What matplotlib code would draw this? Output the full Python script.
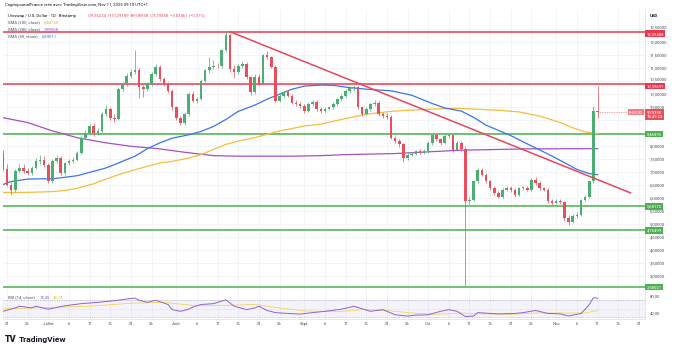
import matplotlib
matplotlib.use('Agg')
import matplotlib.pyplot as plt
import matplotlib.dates as mdates
import numpy as np
import pandas as pd

plt.rcParams['font.family'] = ['Roboto', 'DejaVu Sans']

# ---------------- data (daily candles, 2025-06-20 .. 2025-11-11) ----------------
dates = pd.date_range('2025-06-20', '2025-11-11', freq='D')

opens = [7.70, 7.12, 6.51, 6.32, 7.03, 7.16, 7.05, 6.96, 7.16, 7.42,
         7.48, 7.28, 6.64, 7.42, 7.54, 6.96, 7.35, 7.42, 7.48, 7.74,
         8.32, 8.51, 8.77, 8.51, 8.58, 9.22, 9.41, 9.09, 9.03, 10.19,
         10.38, 10.70, 10.83, 10.90, 10.25, 10.19, 10.38, 10.77, 11.03, 10.58,
         10.38, 10.12, 9.48, 9.09, 8.90, 9.22, 9.99, 9.74, 9.80, 10.51,
         10.90, 11.03, 11.09, 11.06, 11.67, 12.25, 10.96, 10.83, 11.09, 11.16,
         10.64, 10.06, 10.64, 10.40, 11.48, 11.41, 11.03, 9.74, 9.93, 10.06,
         9.93, 9.67, 9.61, 9.54, 9.35, 9.61, 9.70, 9.41, 9.35, 9.44,
         9.48, 9.61, 9.80, 9.93, 10.12, 10.21, 10.25, 9.48, 9.22, 9.41,
         9.61, 9.67, 9.22, 9.15, 9.13, 8.32, 8.19, 8.06, 7.54, 7.67,
         7.70, 7.80, 7.74, 7.80, 8.12, 8.41, 8.25, 8.12, 8.38, 8.41,
         7.84, 8.12, 7.87, 5.87, 5.93, 6.64, 7.09, 6.90, 6.64, 6.38,
         6.19, 6.06, 6.32, 6.38, 6.32, 6.12, 6.38, 6.40, 6.32, 6.70,
         6.58, 6.38, 6.32, 5.87, 5.80, 5.87, 5.85, 5.22, 5.09, 5.30,
         5.35, 5.93, 6.06, 6.64, 9.36]
highs = [7.85, 7.30, 6.62, 7.12, 7.32, 7.30, 7.14, 7.25, 7.55, 7.65,
         7.62, 7.36, 7.52, 7.66, 7.62, 7.40, 7.50, 7.56, 7.82, 8.40,
         8.62, 8.85, 8.88, 8.70, 9.30, 9.56, 9.50, 9.22, 10.25, 10.45,
         10.82, 10.96, 11.70, 10.98, 10.35, 10.46, 10.85, 11.15, 11.10, 10.66,
         10.45, 10.20, 9.55, 9.16, 9.30, 10.06, 10.10, 9.90, 10.56, 10.96,
         11.40, 11.30, 11.20, 11.72, 12.39, 12.30, 11.10, 11.15, 11.25, 11.22,
         10.70, 10.75, 10.78, 11.55, 11.65, 11.46, 11.10, 10.00, 10.12, 10.14,
         10.00, 9.75, 9.70, 9.60, 9.68, 9.78, 9.75, 9.48, 9.50, 9.55,
         9.68, 9.86, 9.98, 10.18, 10.30, 10.34, 10.30, 9.55, 9.48, 9.66,
         9.75, 9.72, 9.30, 9.25, 9.18, 8.40, 8.26, 8.12, 7.72, 7.78,
         7.86, 7.88, 7.88, 8.18, 8.48, 8.48, 8.32, 8.45, 8.50, 8.46,
         8.18, 8.18, 8.00, 6.05, 6.70, 7.15, 7.16, 6.96, 6.70, 6.45,
         6.26, 6.40, 6.46, 6.45, 6.38, 6.44, 6.48, 6.45, 6.78, 6.82,
         6.64, 6.44, 6.38, 5.95, 5.96, 5.95, 5.90, 5.35, 5.38, 5.45,
         5.98, 6.12, 6.70, 9.55, 10.29]
lows = [7.05, 6.45, 6.12, 6.25, 6.95, 6.98, 6.88, 6.90, 7.10, 7.32,
        7.20, 6.58, 6.58, 7.35, 6.90, 6.90, 7.28, 7.36, 7.42, 7.70,
        8.25, 8.45, 8.40, 8.44, 8.52, 9.15, 9.00, 8.92, 9.00, 10.10,
        10.30, 10.60, 10.75, 9.85, 9.90, 10.10, 10.30, 10.70, 10.50, 10.30,
        10.05, 9.40, 9.00, 8.80, 8.82, 9.15, 9.68, 9.65, 9.75, 10.45,
        10.82, 10.95, 10.98, 11.00, 11.60, 10.85, 10.60, 10.75, 11.00, 10.58,
        9.95, 10.00, 10.35, 10.35, 11.35, 10.98, 9.68, 9.70, 9.85, 9.88,
        9.60, 9.55, 9.45, 9.25, 9.30, 9.55, 9.36, 9.28, 9.30, 9.38,
        9.42, 9.55, 9.74, 9.88, 10.05, 10.12, 9.42, 9.15, 9.18, 9.36,
        9.55, 9.15, 9.08, 9.05, 8.25, 8.10, 7.98, 7.40, 7.48, 7.60,
        7.64, 7.68, 7.70, 7.75, 8.05, 8.18, 8.05, 8.08, 8.30, 7.78,
        7.80, 7.82, 2.64, 5.78, 5.88, 6.58, 6.84, 6.58, 6.32, 6.12,
        6.00, 6.02, 6.26, 6.25, 6.06, 6.08, 6.32, 6.26, 6.28, 6.52,
        6.32, 6.26, 5.82, 5.74, 5.76, 5.78, 5.12, 4.98, 5.04, 5.22,
        5.30, 5.88, 6.00, 6.58, 9.09]
closes = [7.12, 6.51, 6.32, 7.03, 7.16, 7.05, 6.96, 7.16, 7.42, 7.48,
          7.28, 6.64, 7.42, 7.54, 6.96, 7.35, 7.42, 7.48, 7.74, 8.32,
          8.51, 8.77, 8.51, 8.58, 9.22, 9.41, 9.09, 9.03, 10.19, 10.38,
          10.70, 10.83, 10.90, 10.25, 10.19, 10.38, 10.77, 11.03, 10.58, 10.38,
          10.12, 9.48, 9.09, 8.90, 9.22, 9.99, 9.74, 9.80, 10.51, 10.90,
          11.03, 11.09, 11.06, 11.67, 12.25, 10.96, 10.83, 11.09, 11.16, 10.64,
          10.06, 10.64, 10.40, 11.48, 11.41, 11.03, 9.74, 9.93, 10.06, 9.93,
          9.67, 9.61, 9.54, 9.35, 9.61, 9.70, 9.41, 9.35, 9.44, 9.48,
          9.61, 9.80, 9.93, 10.12, 10.21, 10.25, 9.48, 9.22, 9.41, 9.61,
          9.67, 9.22, 9.15, 9.13, 8.32, 8.19, 8.06, 7.54, 7.67, 7.70,
          7.80, 7.74, 7.80, 8.12, 8.41, 8.25, 8.12, 8.38, 8.41, 7.84,
          8.12, 7.87, 5.87, 5.93, 6.64, 7.09, 6.90, 6.64, 6.38, 6.19,
          6.06, 6.32, 6.38, 6.32, 6.12, 6.38, 6.40, 6.32, 6.70, 6.58,
          6.38, 6.32, 5.87, 5.80, 5.87, 5.85, 5.22, 5.09, 5.30, 5.35,
          5.93, 6.06, 6.64, 9.33, 9.29]

# moving averages (sampled along the curves)
sma50_dates = ['2025-06-20', '2025-06-22', '2025-06-26', '2025-06-29', '2025-07-02', '2025-07-05',
               '2025-07-08', '2025-07-12', '2025-07-15', '2025-07-18', '2025-07-22', '2025-07-25',
               '2025-07-28', '2025-07-31', '2025-08-04', '2025-08-07', '2025-08-10', '2025-08-13',
               '2025-08-16', '2025-08-20', '2025-08-23', '2025-08-26', '2025-08-29', '2025-09-01',
               '2025-09-05', '2025-09-08', '2025-09-12', '2025-09-17', '2025-09-22', '2025-09-27',
               '2025-10-02', '2025-10-05', '2025-10-09', '2025-10-12', '2025-10-15', '2025-10-18',
               '2025-10-21', '2025-10-25', '2025-10-28', '2025-10-31', '2025-11-03', '2025-11-06',
               '2025-11-09', '2025-11-11']
sma50_vals = [6.52, 6.64, 6.73, 6.74, 6.74, 6.80, 6.86, 7.03, 7.16, 7.35, 7.61, 7.90,
              8.12, 8.30, 8.43, 8.56, 8.75, 9.02, 9.33, 9.57, 9.80, 9.99, 10.18, 10.30,
              10.34, 10.33, 10.24, 10.17, 10.12, 9.95, 9.63, 9.46, 9.34, 9.10, 8.80, 8.60,
              8.40, 8.08, 7.85, 7.61, 7.36, 7.10, 6.94, 6.90]
sma100_dates = ['2025-06-20', '2025-06-26', '2025-07-02', '2025-07-05', '2025-07-08', '2025-07-12',
                '2025-07-15', '2025-07-18', '2025-07-22', '2025-07-25', '2025-07-28', '2025-07-31',
                '2025-08-04', '2025-08-07', '2025-08-10', '2025-08-13', '2025-08-16', '2025-08-20',
                '2025-08-23', '2025-08-26', '2025-08-29', '2025-09-01', '2025-09-05', '2025-09-08',
                '2025-09-12', '2025-09-16', '2025-09-22', '2025-09-27', '2025-10-02', '2025-10-08',
                '2025-10-13', '2025-10-18', '2025-10-23', '2025-10-28', '2025-11-02', '2025-11-05',
                '2025-11-08', '2025-11-11']
sma100_vals = [6.21, 6.22, 6.25, 6.29, 6.38, 6.55, 6.73, 6.90, 7.09, 7.22, 7.35, 7.41,
               7.54, 7.67, 7.87, 8.06, 8.19, 8.32, 8.45, 8.58, 8.67, 8.77, 8.84, 8.95,
               9.09, 9.22, 9.33, 9.38, 9.42, 9.45, 9.41, 9.37, 9.31, 9.15, 8.90, 8.70,
               8.54, 8.48]
sma200_dates = ['2025-06-20', '2025-06-26', '2025-07-02', '2025-07-08', '2025-07-15', '2025-07-21',
                '2025-07-28', '2025-08-03', '2025-08-10', '2025-08-16', '2025-08-23', '2025-08-29',
                '2025-09-05', '2025-09-11', '2025-09-23', '2025-10-09', '2025-10-25', '2025-11-11']
sma200_vals = [9.09, 8.90, 8.58, 8.32, 8.12, 7.99, 7.89, 7.76, 7.63, 7.61, 7.61, 7.61,
               7.63, 7.67, 7.71, 7.84, 7.89, 7.90]

# RSI (14) and its moving average
rsi_dates = ['2025-06-20', '2025-06-23', '2025-06-24', '2025-06-27', '2025-06-28', '2025-07-01',
             '2025-07-05', '2025-07-09', '2025-07-13', '2025-07-16', '2025-07-18', '2025-07-20',
             '2025-07-22', '2025-07-23', '2025-07-25', '2025-07-27', '2025-07-30', '2025-07-31',
             '2025-08-02', '2025-08-04', '2025-08-05', '2025-08-07', '2025-08-10', '2025-08-13',
             '2025-08-15', '2025-08-18', '2025-08-20', '2025-08-21', '2025-08-23', '2025-08-25',
             '2025-08-28', '2025-08-31', '2025-09-03', '2025-09-06', '2025-09-10', '2025-09-13',
             '2025-09-17', '2025-09-20', '2025-09-23', '2025-09-26', '2025-09-28', '2025-10-01',
             '2025-10-04', '2025-10-06', '2025-10-08', '2025-10-10', '2025-10-12', '2025-10-13',
             '2025-10-16', '2025-10-18', '2025-10-22', '2025-10-24', '2025-10-27', '2025-10-30',
             '2025-11-02', '2025-11-04', '2025-11-07', '2025-11-08', '2025-11-09', '2025-11-10',
             '2025-11-11']
rsi_vals = [44, 52, 56, 52, 56, 49, 57, 62, 65, 68, 70, 73,
            75, 70, 65, 70, 60, 48, 44, 49, 54, 60, 62, 71,
            56, 48, 52, 56, 46, 41, 39, 37.5, 41, 44, 49, 56,
            44, 48, 36, 33, 35, 36, 44, 48, 44, 32, 33, 41,
            39, 38, 39, 41, 46, 39, 38, 33, 39, 49, 60, 76,
            74.45]
rsima_dates = ['2025-06-20', '2025-07-01', '2025-07-11', '2025-07-21', '2025-07-29', '2025-08-05',
               '2025-08-13', '2025-08-20', '2025-08-26', '2025-09-01', '2025-09-09', '2025-09-15',
               '2025-09-21', '2025-09-27', '2025-10-03', '2025-10-09', '2025-10-15', '2025-10-21',
               '2025-10-27', '2025-11-02', '2025-11-08', '2025-11-11']
rsima_vals = [50, 53, 56, 63, 65, 58, 58, 60, 52, 45, 43, 48, 46, 40, 37, 40, 38, 37,
              40, 40, 40, 46]

# horizontal levels and trend line
levels_red = [12.39488, 10.39691]
levels_green = [8.46895, 5.68172, 4.76499, 2.58021]
trend_dates = ['2025-08-14', '2025-11-19']
trend_vals = [12.39, 6.20]
last_price = 9.29358

tick_dates = ['2025-06-21', '2025-06-26', '2025-07-01', '2025-07-06', '2025-07-11', '2025-07-16',
              '2025-07-21', '2025-07-26', '2025-08-01', '2025-08-06', '2025-08-11', '2025-08-16',
              '2025-08-21', '2025-08-26', '2025-09-01', '2025-09-06', '2025-09-11', '2025-09-16',
              '2025-09-21', '2025-09-26', '2025-10-01', '2025-10-06', '2025-10-11', '2025-10-16',
              '2025-10-21', '2025-10-26', '2025-11-01', '2025-11-06', '2025-11-11', '2025-11-16',
              '2025-11-21']
tick_labels = ['21', '26', 'Juillet', '6', '11', '16', '21', '26', 'Août', '6', '11', '16', '21',
               '26', 'Sept', '6', '11', '16', '21', '26', 'Oct', '6', '11', '16', '21', '26',
               'Nov', '6', '11', '16', '21']
price_ticks = [3.0, 3.5, 4.0, 4.5, 5.0, 5.5, 6.0, 6.5, 7.0, 7.5, 8.0, 8.5, 9.0, 9.5,
               10.0, 10.5, 11.0, 11.5, 12.0, 12.5]
hidden_ticks = [8.5, 9.0]
nudged_ticks = [12.5, 10.5]

# ---------------- styling ----------------
UP = '#4dae74'
DOWN = '#e5505c'
LRED = '#e8394f'
LGREEN = '#4caf50'
GRID = '#f0f2f6'
TXT = '#131722'
AXC = '#4a4e5a'

W, H = 685, 351
fig = plt.figure(figsize=(W / 100, H / 100), dpi=100)
fig.patch.set_facecolor('white')


def fx(px):
    return px / W


def fy(py):
    return 1 - py / H


ax = fig.add_axes([fx(3), fy(291.5), (645 - 3) / W, (291.5 - 10) / H])
axr = fig.add_axes([fx(3), fy(319), (645 - 3) / W, (319 - 291.5) / H], sharex=ax)

x = mdates.date2num(dates)
x0 = mdates.date2num(pd.Timestamp('2025-06-21'))
ax.set_xlim(x0 - 0.97, x0 + 154.5)
ax.set_ylim(2.414, 13.222)

tx = mdates.date2num(pd.to_datetime(tick_dates))
for t in tx:
    ax.axvline(t, color=GRID, lw=0.6, zorder=0)
    axr.axvline(t, color=GRID, lw=0.6, zorder=0)
for p in price_ticks:
    ax.axhline(p, color=GRID, lw=0.6, zorder=0)

# levels
for v in levels_red:
    ax.axhline(v, color=LRED, lw=1.1, zorder=2)
for v in levels_green:
    ax.axhline(v, color=LGREEN, lw=1.1, zorder=2)

# moving averages
ax.plot(mdates.date2num(pd.to_datetime(sma200_dates)), sma200_vals, color='#a64fc2', lw=0.9, zorder=2.5)
ax.plot(mdates.date2num(pd.to_datetime(sma100_dates)), sma100_vals, color='#f5bd3c', lw=0.9, zorder=2.5)
ax.plot(mdates.date2num(pd.to_datetime(sma50_dates)), sma50_vals, color='#3b74e8', lw=0.9, zorder=2.5)

# candles
o = np.array(opens)
c = np.array(closes)
hi = np.array(highs)
lo = np.array(lows)
cols = np.where(c >= o, UP, DOWN)
ax.vlines(x, lo, hi, colors=cols, lw=0.5, zorder=3)
bh = np.where(np.abs(c - o) < 0.03, 0.03, np.abs(c - o))
bb = np.minimum(o, c)
ax.bar(x, bh, bottom=bb, width=0.62, color=cols, lw=0, zorder=4)

# trend line
ax.plot(mdates.date2num(pd.to_datetime(trend_dates)), trend_vals, color='#e8475a', lw=1.1, zorder=5)

# current price dotted line
ax.plot([x[-1], x0 + 154.5], [last_price, last_price], color=DOWN, lw=0.5,
        ls=(0, (1, 1.5)), zorder=2)

for s in ['top', 'left']:
    ax.spines[s].set_visible(False)
for s in ['right', 'bottom']:
    ax.spines[s].set_color('#e0e3eb')
    ax.spines[s].set_linewidth(0.6)
ax.tick_params(axis='x', bottom=False, labelbottom=False)
ax.tick_params(axis='y', left=False, right=False, labelleft=False, labelright=False)
ax.set_yticks(price_ticks)

# price-axis tick labels (written as text, slightly nudged where TradingView shifts them)
for p in price_ticks:
    if p in hidden_ticks:
        continue
    dy = 1.3 if p in nudged_ticks else 0
    ax.annotate(f'{p:.5f}'.replace('.', ','), xy=(1, p), xycoords=('axes fraction', 'data'),
                xytext=(3.2, dy), textcoords='offset points', ha='left', va='center',
                fontsize=3.1, color=AXC, annotation_clip=False, zorder=8)


def plabel(v, text, color, dy=0.0):
    ax.annotate(text, xy=(1, v), xycoords=('axes fraction', 'data'), xytext=(1.2, dy),
                textcoords='offset points', ha='left', va='center', fontsize=3.1,
                color='white', annotation_clip=False, zorder=10,
                bbox=dict(boxstyle='square,pad=0.3', fc=color, ec='none'))


for v in levels_red:
    plabel(v, f'{v:.5f}'.replace('.', ','), LRED, dy=-1.6)
for v in levels_green:
    plabel(v, f'{v:.5f}'.replace('.', ','), LGREEN)
ax.annotate('9,29358\n14:49:23', xy=(1, last_price), xycoords=('axes fraction', 'data'),
            xytext=(1.2, -1.6), textcoords='offset points', ha='left', va='center', fontsize=3.1,
            color='white', annotation_clip=False, zorder=10, linespacing=1.3,
            bbox=dict(boxstyle='square,pad=0.35', fc=DOWN, ec='none'))
ax.annotate('8H50,82', xy=(1, last_price), xycoords=('axes fraction', 'data'),
            xytext=(-1.5, 0), textcoords='offset points', ha='right', va='center', fontsize=2.8,
            color='white', annotation_clip=False, zorder=10,
            bbox=dict(boxstyle='square,pad=0.3', fc='#ee7a84', ec='none'))

# ---------------- RSI pane ----------------
axr.set_ylim(26, 90.5)
axr.axhspan(30, 70, color='#7e57c2', alpha=0.07, lw=0, zorder=0)
for lv in [70, 30]:
    axr.axhline(lv, color='#9598a1', lw=0.5, ls=(0, (1, 1.5)), zorder=1)
axr.axhline(50, color='#b2b5be', lw=0.4, ls=(0, (1, 1.5)), zorder=1, alpha=0.6)
axr.plot(mdates.date2num(pd.to_datetime(rsima_dates)), rsima_vals, color='#efd65a', lw=0.6, zorder=2)
axr.plot(mdates.date2num(pd.to_datetime(rsi_dates)), rsi_vals, color='#8e62d0', lw=0.7, zorder=3)
for s in ['top', 'left']:
    axr.spines[s].set_visible(False)
for s in ['right', 'bottom']:
    axr.spines[s].set_color('#e0e3eb')
    axr.spines[s].set_linewidth(0.6)
axr.yaxis.tick_right()
axr.set_yticks([40, 80])
axr.set_yticklabels(['40,00', '80,00'])
axr.tick_params(axis='y', right=False, length=0, pad=3.2, labelsize=3.1, labelcolor=AXC)
axr.set_xticks(tx)
axr.set_xticklabels(tick_labels)
axr.tick_params(axis='x', bottom=False, length=0, pad=2.5, labelsize=3.1, labelcolor=AXC)

# ---------------- texts ----------------
fs = 3.1
fig.text(fx(5), fy(5), 'CryptojournalFrance créé avec TradingView.com, Nov 11, 2025 09:10 UTC+1',
         fontsize=fs, color=TXT, va='center')
fig.text(fx(8), fy(15.5), 'Uniswap / U.S. Dollar · 1D · Bitstamp', fontsize=fs, color=TXT, va='center')
fig.text(fx(88), fy(15.5), 'O9,36224  H10,29189  B9,08938  C9,29358  −0,03461 (−0,37%)',
         fontsize=fs, color=DOWN, va='center')
fig.text(fx(8), fy(22.3), 'SMA (100, close)', fontsize=fs, color=AXC, va='center')
fig.text(fx(44), fy(22.3), '8,44750', fontsize=fs, color='#f0ad1c', va='center')
fig.text(fx(8), fy(29), 'SMA (200, close)', fontsize=fs, color=AXC, va='center')
fig.text(fx(44), fy(29), '7,89568', fontsize=fs, color='#a64fc2', va='center')
fig.text(fx(8), fy(35.7), 'SMA (50, close)', fontsize=fs, color=AXC, va='center')
fig.text(fx(42), fy(35.7), '6,89011', fontsize=fs, color='#3b74e8', va='center')
fig.text(fx(650), fy(16), 'USD', fontsize=fs, color=TXT, va='center', fontweight='bold')
fig.text(fx(8), fy(297.3), 'RSI (14, close)', fontsize=fs, color=AXC, va='center')
fig.text(fx(40), fy(297.3), '74,45', fontsize=fs, color='#8e62d0', va='center')
fig.text(fx(53), fy(297.3), '48,74', fontsize=fs, color='#d8c23a', va='center')

fig.text(fx(5), fy(339.5), 'TV', fontsize=6.5, color=TXT, va='center', fontweight='black')
fig.text(fx(19), fy(339.5), 'TradingView', fontsize=6.0, color=TXT, va='center', fontweight='bold')

fig.savefig('out.png', dpi=100, facecolor='white')
